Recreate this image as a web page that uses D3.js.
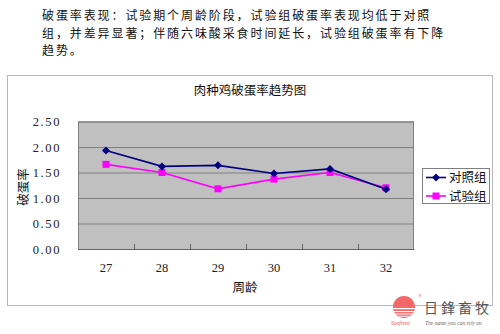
<!DOCTYPE html>
<html>
<head>
<meta charset="utf-8">
<script src="https://cdn.jsdelivr.net/npm/d3@7"></script>
<style>
  html, body { margin: 0; padding: 0; background: #fff; }
  svg { display: block; }
</style>
</head>
<body>
<svg id="chart" width="500" height="334"></svg>
<script>
// Weekly egg-breakage rate, control vs. trial group
const weeks = ["27", "28", "29", "30", "31", "32"];
const controlValues = [1.93, 1.62, 1.64, 1.48, 1.57, 1.17];
const trialValues = [1.66, 1.50, 1.18, 1.37, 1.50, 1.20];
const seriesNames = ["对照组", "试验组"];
const yTicks = [0, 0.5, 1.0, 1.5, 2.0, 2.5];

const introLines = [
  "破蛋率表现：试验期个周龄阶段，试验组破蛋率表现均低于对照",
  "组，并差异显著；伴随六味酸采食时间延长，试验组破蛋率有下降",
  "趋势。"
];

const cjk = "'Noto Sans CJK SC', 'Noto Sans', sans-serif";
const serif = "'Liberation Serif', 'DejaVu Serif', serif";

const svg = d3.select("#chart");

// Intro paragraph
svg.append("g").selectAll("text")
  .data(introLines)
  .join("text")
  .attr("x", 42)
  .attr("y", (d, i) => 20 + i * 17.5)
  .attr("font-family", cjk)
  .attr("font-size", 12)
  .attr("letter-spacing", "1.9px")
  .attr("fill", "#111")
  .text(d => d);

// Chart frame
svg.append("rect")
  .attr("x", 7.5).attr("y", 75.5)
  .attr("width", 485).attr("height", 230)
  .attr("fill", "#fff")
  .attr("stroke", "#b8b8b8");

svg.append("text")
  .attr("x", 250).attr("y", 95)
  .attr("text-anchor", "middle")
  .attr("font-family", cjk)
  .attr("font-size", 12.5)
  .attr("fill", "#111")
  .text("肉种鸡破蛋率趋势图");

// Plot area
const plot = { left: 78, right: 414, top: 121.5, bottom: 249 };

const x = d3.scaleBand()
  .domain(weeks)
  .range([plot.left, plot.right]);

const y = d3.scaleLinear()
  .domain([0, 2.5])
  .range([plot.bottom, plot.top]);

svg.append("rect")
  .attr("x", plot.left).attr("y", plot.top)
  .attr("width", plot.right - plot.left)
  .attr("height", plot.bottom - plot.top)
  .attr("fill", "#c0c0c0");

// Y axis with gridlines
const yAxis = svg.append("g")
  .attr("transform", `translate(${plot.left},0)`)
  .call(d3.axisLeft(y)
    .tickValues(yTicks)
    .tickFormat(d3.format(".2f"))
    .tickSize(-(plot.right - plot.left))
    .tickPadding(17));
yAxis.select(".domain").remove();
yAxis.selectAll(".tick line").attr("stroke", "#808080").attr("stroke-width", 1);
yAxis.selectAll(".tick text")
  .attr("font-family", serif)
  .attr("font-size", 12.5)
  .attr("letter-spacing", "1.6px")
  .attr("fill", "#222");

// Plot area border
svg.append("rect")
  .attr("x", plot.left + 0.5).attr("y", plot.top + 0.5)
  .attr("width", plot.right - plot.left - 1)
  .attr("height", plot.bottom - plot.top)
  .attr("fill", "none")
  .attr("stroke", "#808080");

// X axis: labels at category centres, tick marks on category boundaries
const xAxis = svg.append("g")
  .attr("transform", `translate(0,${plot.bottom})`)
  .call(d3.axisBottom(x).tickSize(0).tickPadding(14));
xAxis.select(".domain").attr("stroke", "#666");
xAxis.selectAll(".tick text")
  .attr("font-family", serif)
  .attr("font-size", 12.5)
  .attr("fill", "#222");

svg.append("g").selectAll("line")
  .data(weeks.slice(1))
  .join("line")
  .attr("x1", d => Math.round(x(d)) + 0.5)
  .attr("x2", d => Math.round(x(d)) + 0.5)
  .attr("y1", plot.bottom)
  .attr("y2", plot.bottom - 5)
  .attr("stroke", "#666");

// Axis titles
svg.append("text")
  .attr("x", 245).attr("y", 292)
  .attr("text-anchor", "middle")
  .attr("font-family", cjk)
  .attr("font-size", 12.5)
  .attr("fill", "#111")
  .text("周龄");

svg.append("text")
  .attr("transform", "translate(28,187) rotate(-90)")
  .attr("text-anchor", "middle")
  .attr("font-family", cjk)
  .attr("font-size", 12.5)
  .attr("fill", "#111")
  .text("破蛋率");

// Series
const cx = d => x(d) + x.bandwidth() / 2;
const line = d3.line().x(d => cx(d.week)).y(d => y(d.value));

const series = [
  { name: seriesNames[0], color: "#000080", marker: "diamond",
    points: weeks.map((w, i) => ({ week: w, value: controlValues[i] })) },
  { name: seriesNames[1], color: "#ff00ff", marker: "square",
    points: weeks.map((w, i) => ({ week: w, value: trialValues[i] })) }
];

function drawMarker(g, type, color) {
  if (type === "diamond") {
    g.append("path").attr("d", "M0,-4L4,0L0,4L-4,0Z").attr("fill", color);
  } else {
    g.append("rect").attr("x", -3.5).attr("y", -3.5)
      .attr("width", 7).attr("height", 7).attr("fill", color);
  }
}

// draw trial group first so control line sits on top
[series[1], series[0]].forEach(s => {
  svg.append("path")
    .attr("d", line(s.points))
    .attr("fill", "none")
    .attr("stroke", s.color)
    .attr("stroke-width", 1.6);
  s.points.forEach(p => {
    const g = svg.append("g")
      .attr("transform", `translate(${cx(p.week)},${y(p.value)})`);
    drawMarker(g, s.marker, s.color);
  });
});

// Legend
const legend = svg.append("g");
legend.append("rect")
  .attr("x", 422.5).attr("y", 168.5)
  .attr("width", 67).attr("height", 35)
  .attr("fill", "#fff")
  .attr("stroke", "#808080");
series.forEach((s, i) => {
  const ly = 177.5 + i * 18.5;
  legend.append("line")
    .attr("x1", 426).attr("x2", 446)
    .attr("y1", ly).attr("y2", ly)
    .attr("stroke", s.color).attr("stroke-width", 1.6);
  const g = legend.append("g").attr("transform", `translate(436,${ly})`);
  drawMarker(g, s.marker, s.color);
  legend.append("text")
    .attr("x", 449).attr("y", ly + 4.5)
    .attr("font-family", cjk)
    .attr("font-size", 12.5)
    .attr("fill", "#111")
    .text(s.name);
});

// Company logo
const logo = svg.append("g");
const clip = svg.append("defs").append("clipPath").attr("id", "sun");
clip.append("circle").attr("cx", 404).attr("cy", 307).attr("r", 11);
logo.append("circle").attr("cx", 404).attr("cy", 307).attr("r", 11).attr("fill", "#f26767");
const stripes = logo.append("g").attr("clip-path", "url(#sun)");
[308, 311, 313.5, 315.8].forEach((sy, i) => {
  stripes.append("rect")
    .attr("x", 390).attr("y", sy)
    .attr("width", 30).attr("height", 1.2 - i * 0.1)
    .attr("fill", "#fff");
});
logo.append("text")
  .attr("x", 418).attr("y", 297)
  .attr("font-family", "'DejaVu Sans', sans-serif")
  .attr("font-size", 4)
  .attr("fill", "#e66")
  .text("®");
logo.append("text")
  .attr("x", 424).attr("y", 313)
  .attr("font-family", cjk)
  .attr("font-size", 14)
  .attr("letter-spacing", "3px")
  .attr("fill", "#555")
  .text("日鋒畜牧");
logo.append("text")
  .attr("x", 391).attr("y", 325)
  .attr("font-family", serif)
  .attr("font-style", "italic")
  .attr("font-size", 5.5)
  .attr("fill", "#e05050")
  .text("Sunfront");
logo.append("text")
  .attr("x", 425).attr("y", 325)
  .attr("font-family", serif)
  .attr("font-style", "italic")
  .attr("font-size", 5.5)
  .attr("fill", "#666")
  .text("The name you can rely on");
</script>
</body>
</html>
